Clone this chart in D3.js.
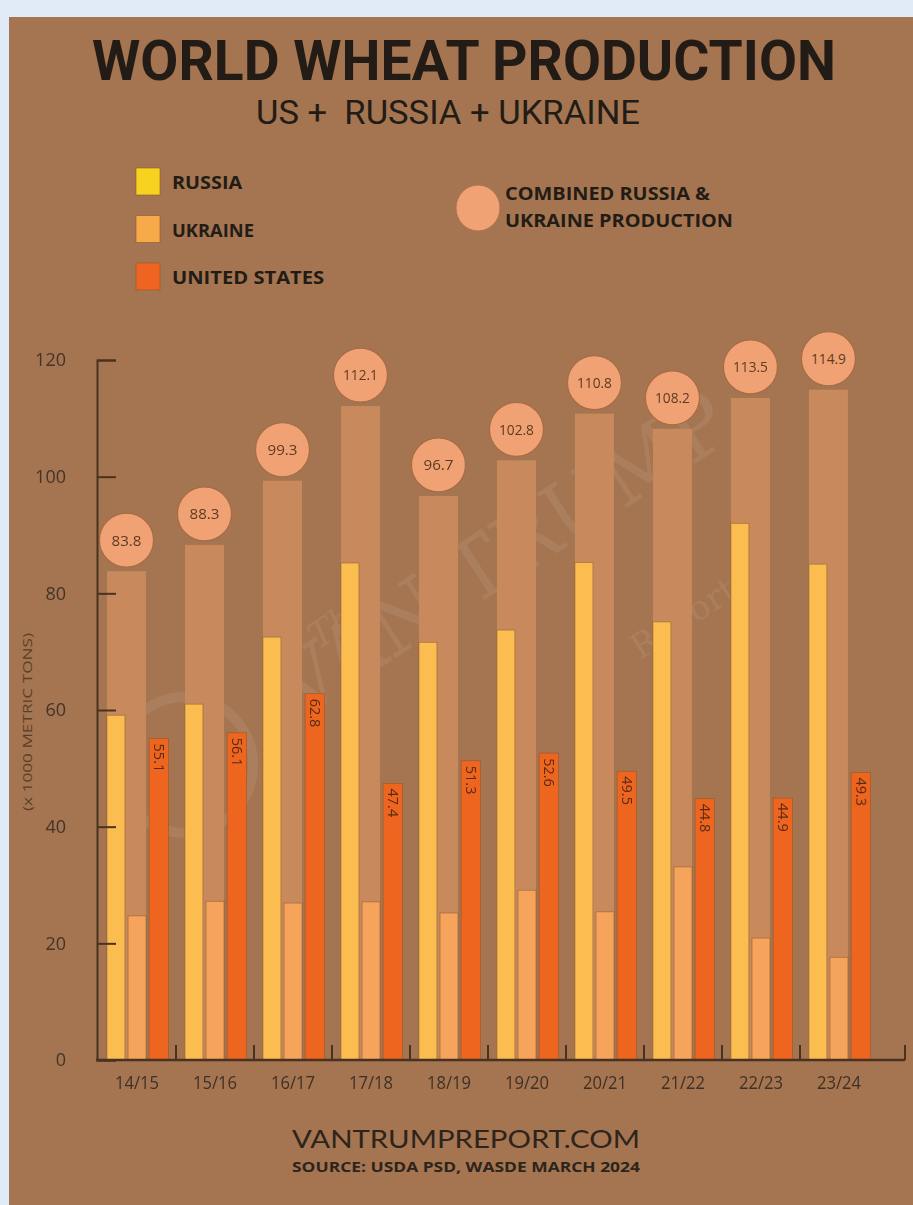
<!DOCTYPE html>
<html>
<head>
<meta charset="utf-8">
<script src="https://cdn.jsdelivr.net/npm/d3@7"></script>
<style>
  body { margin: 0; background: #e1ebf8; }
  svg { display: block; }
</style>
</head>
<body>
<div id="chart"></div>
<script>
const w = 913;
const h = 1205;

const years = ['14/15', '15/16', '16/17', '17/18', '18/19', '19/20', '20/21', '21/22', '22/23', '23/24'];
const russia = [59.1, 61.0, 72.5, 85.2, 71.6, 73.7, 85.3, 75.1, 92.0, 85.0];
const ukraine = [24.7, 27.2, 26.9, 27.1, 25.2, 29.1, 25.4, 33.1, 20.9, 17.6];
const unitedStates = [55.1, 56.1, 62.8, 47.4, 51.3, 52.6, 49.5, 44.8, 44.9, 49.3];
const combined = [83.8, 88.3, 99.3, 112.1, 96.7, 102.8, 110.8, 108.2, 113.5, 114.9];
const yTicks = [0, 20, 40, 60, 80, 100, 120];

const legendItems = [
  {color: '#f7d21e', label: 'RUSSIA'},
  {color: '#f8a949', label: 'UKRAINE'},
  {color: '#ee6420', label: 'UNITED STATES'}
];

const colors = {russia: '#fbbd4f', ukraine: '#f6a45c', us: '#ee6520', combined: '#c88a5d', circle: '#f0a274'};
const ink = '#231c16';

const data = years.map((y, i) => ({
  year: y, russia: russia[i], ukraine: ukraine[i], us: unitedStates[i], combined: combined[i]
}));

const svg = d3.select('#chart')
  .append('svg')
  .attr('width', w)
  .attr('height', h);

// panel
svg.append('rect')
  .attr('x', 9).attr('y', 17)
  .attr('width', w - 9).attr('height', h - 17)
  .attr('fill', '#a47550');

// title
svg.append('text')
  .attr('x', 92).attr('y', 80)
  .attr('textLength', 744).attr('lengthAdjust', 'spacingAndGlyphs')
  .attr('font-family', 'Roboto').attr('font-weight', 700)
  .attr('font-size', 55).attr('fill', ink)
  .text('WORLD WHEAT PRODUCTION');

svg.append('text')
  .attr('x', 256).attr('y', 124)
  .attr('textLength', 384).attr('lengthAdjust', 'spacingAndGlyphs')
  .attr('font-family', 'Roboto').attr('font-weight', 400)
  .attr('font-size', 33).attr('fill', ink)
  .attr('xml:space', 'preserve')
  .text('US +  RUSSIA + UKRAINE');

// legend
const legend = svg.selectAll('.legend')
  .data(legendItems)
  .enter()
  .append('g')
  .attr('class', 'legend')
  .attr('transform', (d, i) => `translate(136, ${168 + i * 47.5})`);

legend.append('rect')
  .attr('width', 24).attr('height', 27)
  .attr('fill', d => d.color)
  .attr('stroke', '#8a5a34').attr('stroke-width', 0.6);

legend.append('text')
  .attr('x', 36).attr('y', 21)
  .attr('font-family', 'Open Sans').attr('font-weight', 700)
  .attr('font-size', 18).attr('fill', ink)
  .attr('textLength', d => d.label.length * 11.7)
  .attr('lengthAdjust', 'spacingAndGlyphs')
  .text(d => d.label);

svg.append('ellipse')
  .attr('cx', 478).attr('cy', 208).attr('rx', 22).attr('ry', 23)
  .attr('fill', colors.circle)
  .attr('stroke', '#b0734a').attr('stroke-width', 1);

svg.append('text')
  .attr('x', 505).attr('y', 200)
  .attr('textLength', 205).attr('lengthAdjust', 'spacingAndGlyphs')
  .attr('font-family', 'Open Sans').attr('font-weight', 700)
  .attr('font-size', 18).attr('fill', ink)
  .text('COMBINED RUSSIA &');
svg.append('text')
  .attr('x', 505).attr('y', 227)
  .attr('textLength', 228).attr('lengthAdjust', 'spacingAndGlyphs')
  .attr('font-family', 'Open Sans').attr('font-weight', 700)
  .attr('font-size', 18).attr('fill', ink)
  .text('UKRAINE PRODUCTION');

// scales
const x = d3.scaleBand().domain(years).range([107, 869]).paddingInner(0.23).paddingOuter(0);
const xs = d3.scaleBand().domain(['russia', 'ukraine', 'us']).range([0, x.bandwidth()]).paddingInner(0.15);
const y = d3.scaleLinear().domain([0, 120]).range([1060, 360]);

// watermark
const wm = svg.append('g').attr('opacity', 0.09).attr('fill', '#fff4e0');
wm.append('circle').attr('cx', 185).attr('cy', 765).attr('r', 68)
  .attr('fill', 'none').attr('stroke', '#fff4e0').attr('stroke-width', 10);
wm.append('text')
  .attr('transform', 'translate(300,720) rotate(-33)')
  .attr('font-family', 'DejaVu Serif').attr('font-size', 84)
  .attr('textLength', 520).attr('lengthAdjust', 'spacingAndGlyphs')
  .text('VAN TRUMP');
wm.append('text')
  .attr('transform', 'translate(318,650) rotate(-33)')
  .attr('font-family', 'DejaVu Serif').attr('font-style', 'italic').attr('font-size', 36)
  .text('The');
wm.append('text')
  .attr('transform', 'translate(640,660) rotate(-33)')
  .attr('font-family', 'DejaVu Serif').attr('font-size', 34)
  .text('Report');

const groups = svg.selectAll('.group')
  .data(data)
  .enter()
  .append('g')
  .attr('class', 'group')
  .attr('transform', d => `translate(${x(d.year)}, 0)`);

// combined bar behind Russia + Ukraine
groups.append('rect')
  .attr('x', xs('russia'))
  .attr('width', xs('ukraine') + xs.bandwidth() - xs('russia'))
  .attr('y', d => y(d.combined))
  .attr('height', d => y(0) - y(d.combined))
  .attr('fill', colors.combined);

const barStroke = 'rgba(130,80,35,0.55)';

groups.append('rect')
  .attr('x', xs('russia')).attr('width', xs.bandwidth())
  .attr('y', d => y(d.russia)).attr('height', d => y(0) - y(d.russia))
  .attr('fill', colors.russia).attr('stroke', barStroke).attr('stroke-width', 0.8);

groups.append('rect')
  .attr('x', xs('ukraine')).attr('width', xs.bandwidth())
  .attr('y', d => y(d.ukraine)).attr('height', d => y(0) - y(d.ukraine))
  .attr('fill', colors.ukraine).attr('stroke', barStroke).attr('stroke-width', 0.8);

groups.append('rect')
  .attr('x', xs('us')).attr('width', xs.bandwidth() + 1.5)
  .attr('y', d => y(d.us)).attr('height', d => y(0) - y(d.us))
  .attr('fill', colors.us).attr('stroke', barStroke).attr('stroke-width', 0.8);

groups.append('text')
  .attr('transform', d => `translate(${xs('us') + xs.bandwidth() / 2 + 0.75}, ${y(d.us) + 5}) rotate(90)`)
  .attr('dy', '0.35em')
  .attr('font-family', 'Open Sans').attr('font-size', 14.5)
  .attr('fill', '#5a2c12')
  .text(d => d.us.toFixed(1));

// combined circles
const cx = (xs('russia') + xs('ukraine') + xs.bandwidth()) / 2;
groups.append('circle')
  .attr('cx', cx)
  .attr('cy', d => y(d.combined) - 31)
  .attr('r', 27)
  .attr('fill', colors.circle)
  .attr('stroke', '#a86c44').attr('stroke-width', 1.2);

groups.append('text')
  .attr('x', cx)
  .attr('y', d => y(d.combined) - 31)
  .attr('dy', '0.36em')
  .attr('text-anchor', 'middle')
  .attr('font-family', 'Open Sans').attr('font-size', 15)
  .attr('fill', '#5e3a22')
  .attr('textLength', d => d.combined >= 100 ? 35 : 30)
  .attr('lengthAdjust', 'spacingAndGlyphs')
  .text(d => d.combined.toFixed(1));

// y axis
const yAxis = d3.axisLeft(y).tickValues(yTicks).tickSize(-19).tickPadding(31).tickFormat(d3.format('d'));
const gy = svg.append('g')
  .attr('transform', 'translate(97, 0)')
  .call(yAxis);
gy.select('.domain').attr('stroke', '#4a3220').attr('stroke-width', 2);
gy.selectAll('.tick line').attr('stroke', '#4a3220').attr('stroke-width', 2);
gy.selectAll('.tick text')
  .attr('font-family', 'Open Sans').attr('font-size', 18)
  .attr('fill', '#43342a');

// x axis
const xAxis = d3.axisBottom(x).tickSize(0).tickPadding(16);
const gx = svg.append('g')
  .attr('transform', 'translate(0, 1060)')
  .call(xAxis);
gx.select('.domain').attr('d', 'M96,0H905').attr('stroke', '#4a3220').attr('stroke-width', 2.5);
gx.selectAll('.tick text')
  .attr('font-family', 'Open Sans').attr('font-size', 18)
  .attr('fill', '#3f3025')
  .attr('textLength', 44).attr('lengthAdjust', 'spacingAndGlyphs');

// separators between groups
const gap = x.step() - x.bandwidth();
const sep = years.map(d => x(d) + x.bandwidth() + gap / 2);
sep[sep.length - 1] = 905;
svg.append('g').selectAll('line')
  .data(sep)
  .enter()
  .append('line')
  .attr('x1', d => d).attr('x2', d => d)
  .attr('y1', 1060).attr('y2', 1045)
  .attr('stroke', '#4a3220').attr('stroke-width', 2);

// y label
svg.append('text')
  .attr('transform', 'translate(32, 722) rotate(-90)')
  .attr('text-anchor', 'middle')
  .attr('font-family', 'Open Sans').attr('font-size', 13)
  .attr('fill', '#5a3f28')
  .attr('textLength', 178).attr('lengthAdjust', 'spacingAndGlyphs')
  .text('(x 1000 METRIC TONS)');

// footer
svg.append('text')
  .attr('x', 292).attr('y', 1148)
  .attr('textLength', 348).attr('lengthAdjust', 'spacingAndGlyphs')
  .attr('font-family', 'Lato').attr('font-weight', 400)
  .attr('font-size', 25).attr('fill', '#2e241c')
  .text('VANTRUMPREPORT.COM');

svg.append('text')
  .attr('x', 292).attr('y', 1172)
  .attr('textLength', 348).attr('lengthAdjust', 'spacingAndGlyphs')
  .attr('font-family', 'Open Sans').attr('font-weight', 700)
  .attr('font-size', 15).attr('fill', '#2e241c')
  .text('SOURCE: USDA PSD, WASDE MARCH 2024');
</script>
</body>
</html>
